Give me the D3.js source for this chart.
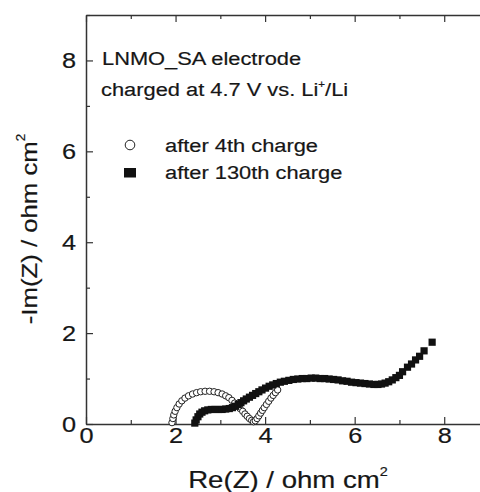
<!DOCTYPE html>
<html>
<head>
<meta charset="utf-8">
<script src="https://cdn.jsdelivr.net/npm/d3@7"></script>
<style>
  body { margin: 0; background: #fff; }
  svg { display: block; font-family: "Liberation Sans", Arial, sans-serif; }
  svg text { fill: #161616; stroke: #161616; stroke-width: 0.2px; }
  .axis path, .axis line { stroke: #333; }
  .axis text { font-size: 22px; }
</style>
</head>
<body>
<svg width="480" height="492"></svg>
<script>
// Re(Z), -Im(Z) in ohm cm^2
const after4thRe = [1.92, 1.94, 1.96, 1.99, 2.03, 2.08, 2.14, 2.21, 2.29, 2.38, 2.47, 2.56, 2.66, 2.76, 2.86, 2.95, 3.04, 3.12, 3.19, 3.26, 3.32, 3.38, 3.44, 3.5, 3.55, 3.6, 3.65, 3.7, 3.74, 3.78, 3.82, 3.86, 3.9, 3.94, 3.98, 4.03, 4.08, 4.13, 4.18, 4.23, 4.28];
const after4thIm = [0.03, 0.12, 0.2, 0.28, 0.36, 0.44, 0.51, 0.57, 0.62, 0.66, 0.69, 0.71, 0.72, 0.72, 0.71, 0.69, 0.66, 0.62, 0.58, 0.52, 0.46, 0.4, 0.34, 0.28, 0.22, 0.17, 0.12, 0.08, 0.05, 0.07, 0.12, 0.18, 0.24, 0.3, 0.36, 0.43, 0.5, 0.57, 0.63, 0.69, 0.75];

const after130thRe = [2.43, 2.46, 2.5, 2.54, 2.59, 2.65, 2.72, 2.8, 2.88, 2.96, 3.04, 3.12, 3.2, 3.27, 3.34, 3.4, 3.46, 3.52, 3.58, 3.65, 3.72, 3.79, 3.86, 3.93, 4.01, 4.09, 4.17, 4.25, 4.34, 4.43, 4.53, 4.63, 4.73, 4.83, 4.93, 5.03, 5.13, 5.23, 5.33, 5.43, 5.53, 5.63, 5.73, 5.83, 5.93, 6.03, 6.13, 6.23, 6.33, 6.43, 6.52, 6.6, 6.68, 6.76, 6.84, 6.92, 7.0, 7.07, 7.18, 7.27, 7.36, 7.45, 7.55, 7.73];
const after130thIm = [0.02, 0.09, 0.16, 0.22, 0.26, 0.29, 0.31, 0.32, 0.32, 0.32, 0.32, 0.33, 0.34, 0.36, 0.39, 0.43, 0.47, 0.51, 0.55, 0.59, 0.63, 0.67, 0.71, 0.75, 0.79, 0.83, 0.86, 0.89, 0.92, 0.94, 0.96, 0.98, 0.99, 1.0, 1.0, 1.01, 1.01, 1.0, 1.0, 0.99, 0.98, 0.97, 0.95, 0.94, 0.92, 0.91, 0.9, 0.89, 0.88, 0.87, 0.87, 0.88, 0.9, 0.93, 0.97, 1.02, 1.07, 1.15, 1.25, 1.32, 1.41, 1.49, 1.61, 1.8];

const xMajor = [0, 2, 4, 6, 8];
const xMinor = [1, 3, 5, 7, 9];
const yMajor = [0, 2, 4, 6, 8];
const yMinor = [1, 3, 5, 7, 9];

const SX = 1.15; // the source font is drawn wide

const svg = d3.select("svg");

const x = d3.scaleLinear().domain([0, 9]).range([86, 489]);
const y = d3.scaleLinear().domain([0, 9]).range([424, 15]);

function stretch(sel) {
  sel.each(function() {
    const t = d3.select(this);
    const x0 = +t.attr("x") || 0;
    t.attr("x", x0 / SX).attr("transform", "scale(" + SX + ",1)");
  });
}

// minor ticks
svg.append("g").attr("class", "axis").attr("transform", "translate(0,424)")
  .call(d3.axisBottom(x).tickValues(xMinor).tickSize(-4).tickFormat(""))
  .call(g => g.select(".domain").remove());
svg.append("g").attr("class", "axis").attr("transform", "translate(0,15)")
  .call(d3.axisTop(x).tickValues(xMinor).tickSize(-4).tickFormat(""))
  .call(g => g.select(".domain").remove());
svg.append("g").attr("class", "axis").attr("transform", "translate(86,0)")
  .call(d3.axisLeft(y).tickValues(yMinor).tickSize(-4).tickFormat(""))
  .call(g => g.select(".domain").remove());
svg.append("g").attr("class", "axis").attr("transform", "translate(489,0)")
  .call(d3.axisRight(y).tickValues(yMinor).tickSize(-4).tickFormat(""))
  .call(g => g.select(".domain").remove());

// major ticks + frame
const xb = svg.append("g").attr("class", "axis").attr("transform", "translate(0,424)")
  .call(d3.axisBottom(x).tickValues(xMajor).tickSize(-7).tickSizeOuter(0).tickPadding(3).tickFormat(d3.format("d")));
const yl = svg.append("g").attr("class", "axis").attr("transform", "translate(86,0)")
  .call(d3.axisLeft(y).tickValues(yMajor).tickSize(-7).tickSizeOuter(0).tickPadding(10).tickFormat(d3.format("d")));
svg.append("g").attr("class", "axis").attr("transform", "translate(0,15)")
  .call(d3.axisTop(x).tickValues(xMajor).tickSize(-7).tickSizeOuter(0).tickFormat(""));
svg.append("g").attr("class", "axis").attr("transform", "translate(489,0)")
  .call(d3.axisRight(y).tickValues(yMajor).tickSize(-7).tickSizeOuter(0).tickFormat(""));

svg.selectAll(".axis path").attr("stroke-width", 1.5);
svg.selectAll(".axis line").attr("stroke-width", 1.2);
xb.selectAll("text").call(stretch);
yl.selectAll("text").call(stretch);

// data
const open = after4thRe.map((d, i) => [d, after4thIm[i]]);
const filled = after130thRe.map((d, i) => [d, after130thIm[i]]);

svg.append("g").selectAll("circle").data(open).join("circle")
  .attr("cx", d => x(d[0])).attr("cy", d => y(d[1])).attr("r", 3.2)
  .attr("fill", "#fff").attr("stroke", "#222").attr("stroke-width", 1);

svg.append("g").selectAll("rect").data(filled).join("rect")
  .attr("x", d => x(d[0]) - 3.6).attr("y", d => y(d[1]) - 3.6)
  .attr("width", 7.2).attr("height", 7.2).attr("fill", "#111");

// annotation
function label(px, py, size) {
  return svg.append("text")
    .attr("transform", "translate(" + px + "," + py + ") scale(" + SX + ",1)")
    .attr("font-size", size);
}
label(102, 65, 19).text("LNMO_SA electrode");
const l2 = label(101, 96, 19);
l2.append("tspan").text("charged at 4.7 V vs. Li");
l2.append("tspan").attr("font-size", 10).attr("dy", -8).text("+");
l2.append("tspan").attr("dy", 8).text("/Li");

// legend
svg.append("circle").attr("cx", 130).attr("cy", 145).attr("r", 4.8)
  .attr("fill", "#fff").attr("stroke", "#222").attr("stroke-width", 1);
svg.append("rect").attr("x", 124).attr("y", 168).attr("width", 12).attr("height", 9.5).attr("fill", "#111");
label(165, 152, 19).text("after 4th charge");
label(165, 179, 19).text("after 130th charge");

// axis titles
const xt = svg.append("text")
  .attr("transform", "translate(288,488) scale(1.2,1)")
  .attr("text-anchor", "middle").attr("font-size", 23);
xt.append("tspan").text("Re(Z) / ohm cm");
xt.append("tspan").attr("font-size", 12).attr("dy", -12).text("2");

const yt = svg.append("text")
  .attr("transform", "translate(37,229) rotate(-90) scale(1.12,1)")
  .attr("text-anchor", "middle").attr("font-size", 23);
yt.append("tspan").text("-Im(Z) / ohm cm");
yt.append("tspan").attr("font-size", 12).attr("dy", -12).text("2");
</script>
</body>
</html>
